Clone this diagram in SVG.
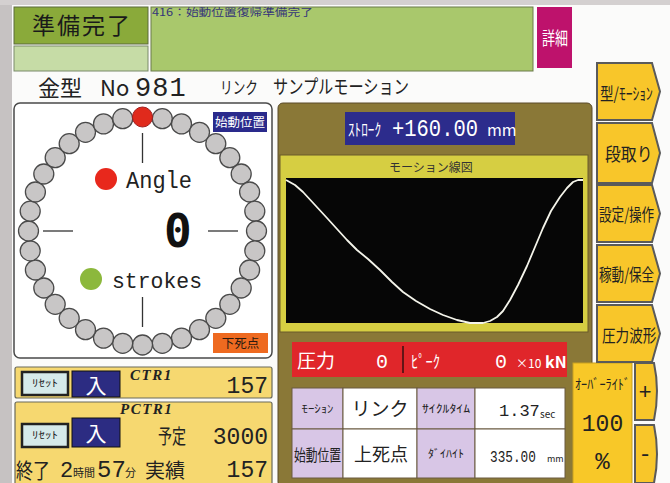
<svg xmlns="http://www.w3.org/2000/svg" width="670" height="483" viewBox="0 0 670 483">
<defs>
<style>
.jp{font-family:"Noto Sans CJK JP","Noto Sans",sans-serif}
.mono{font-family:"Liberation Mono","DejaVu Sans Mono",monospace}
.dmono{font-family:"DejaVu Sans Mono","Liberation Mono",monospace}
.ser{font-family:"Liberation Serif",serif;font-style:italic;font-weight:bold}
.dot{fill:#c8c6c6;stroke:#4a4a4a;stroke-width:1.3}
.nav{fill:#f8c62a;stroke:#5a5a5a;stroke-width:2}
.cell{stroke:#6a5a40;stroke-width:1}
.rst{fill:#d6eaea;stroke:#222;stroke-width:2.5}
.inb{fill:#2c2c82;stroke:#111;stroke-width:1}
</style>
<circle id="d" r="10" class="dot"/>
</defs>
<rect x="0" y="0" width="670" height="483" fill="#fbfbfa"/>
<rect x="0" y="0" width="12" height="483" fill="#c6c2c2"/>
<rect x="0" y="0" width="670" height="5" fill="#d4d0d0"/>

<g id="status">
<rect x="14" y="7" width="134" height="37" fill="#8aaa3a" stroke="#5a6a3a" stroke-width="1"/>
<text x="32" y="34" class="jp" font-size="23" letter-spacing="2" fill="#1a1a1a">準備完了</text>
<rect x="14" y="46" width="134" height="25" fill="#c6dca6" stroke="#7a8a6a" stroke-width="1"/>
</g>
<g id="message">
<rect x="151" y="7" width="382" height="64" fill="#a9c86c" stroke="#6a7a4a" stroke-width="1"/>
<text x="152" y="16" class="jp" font-size="10.5" fill="#35357a" textLength="161" lengthAdjust="spacingAndGlyphs">416：始動位置復帰準備完了</text>
</g>
<g id="detail">
<rect x="537" y="7" width="35" height="61" fill="#be126c"/>
<text x="542" y="45" class="jp" font-size="18" fill="#ffffff" textLength="26" lengthAdjust="spacingAndGlyphs">詳細</text>
</g>
<g id="title">
<text x="38" y="96" class="jp" font-size="22" fill="#222">金型</text>
<text x="100" y="96" class="jp" font-size="22" fill="#222">No</text>
<text x="135" y="96" class="mono" font-size="27" fill="#222" letter-spacing="1">981</text>
<text x="220" y="94" class="jp" font-size="17" fill="#222" textLength="38" lengthAdjust="spacingAndGlyphs">リンク</text>
<text transform="translate(273,94) scale(0.8,1)" class="jp" font-size="19" fill="#222">サンプルモーション</text>
</g>

<g id="angle-panel">
<rect x="14" y="103" width="258" height="255" rx="6" fill="#ffffff" stroke="#4a4a4a" stroke-width="1.5"/>
<g id="dots">
<use href="#d" x="162.3" y="118.7"/><use href="#d" x="181.5" y="123.9"/><use href="#d" x="199.5" y="132.3"/>
<use href="#d" x="215.8" y="143.7"/><use href="#d" x="229.8" y="157.7"/><use href="#d" x="241.2" y="174"/>
<use href="#d" x="249.6" y="192"/><use href="#d" x="254.8" y="211.2"/><use href="#d" x="256.5" y="231"/>
<use href="#d" x="254.8" y="250.8"/><use href="#d" x="249.6" y="270"/><use href="#d" x="241.2" y="288"/>
<use href="#d" x="229.8" y="304.3"/><use href="#d" x="215.8" y="318.3"/><use href="#d" x="199.5" y="329.7"/>
<use href="#d" x="181.5" y="338.1"/><use href="#d" x="162.3" y="343.3"/><use href="#d" x="142.5" y="345"/>
<use href="#d" x="122.7" y="343.3"/><use href="#d" x="103.5" y="338.1"/><use href="#d" x="85.5" y="329.7"/>
<use href="#d" x="69.2" y="318.3"/><use href="#d" x="55.2" y="304.3"/><use href="#d" x="43.8" y="288"/>
<use href="#d" x="35.4" y="270"/><use href="#d" x="30.2" y="250.8"/><use href="#d" x="28.5" y="231"/>
<use href="#d" x="30.2" y="211.2"/><use href="#d" x="35.4" y="192"/><use href="#d" x="43.8" y="174"/>
<use href="#d" x="55.2" y="157.7"/><use href="#d" x="69.2" y="143.7"/><use href="#d" x="85.5" y="132.3"/>
<use href="#d" x="103.5" y="123.9"/><use href="#d" x="122.7" y="118.7"/>
<circle cx="142.5" cy="117" r="10" fill="#e02a1c" stroke="#a02020" stroke-width="1"/>
</g>
<g stroke="#333" stroke-width="1.3">
<line x1="142.5" y1="133" x2="142.5" y2="163"/>
<line x1="142.5" y1="297" x2="142.5" y2="327"/>
<line x1="43" y1="231" x2="73" y2="231"/>
<line x1="208" y1="231" x2="238" y2="231"/>
</g>
<circle cx="106" cy="179" r="11" fill="#e8281c"/>
<text x="126" y="188" class="mono" font-size="24" fill="#222" textLength="66" lengthAdjust="spacingAndGlyphs">Angle</text>
<circle cx="91" cy="279" r="11" fill="#8cb83c"/>
<text x="112" y="288" class="mono" font-size="22" fill="#222" textLength="90" lengthAdjust="spacingAndGlyphs">strokes</text>
<text x="164" y="247" class="dmono" font-size="46" font-weight="bold" fill="#111">0</text>
<rect x="213" y="112" width="54" height="20" fill="#2a2a8c"/>
<text x="240" y="127" class="jp" font-size="12.5" fill="#fff" text-anchor="middle">始動位置</text>
<rect x="213" y="333" width="55" height="20" fill="#ee6a20"/>
<text x="240.5" y="348" class="jp" font-size="12.5" fill="#2a1a10" text-anchor="middle">下死点</text>
</g>

<g id="motion-panel">
<rect x="278" y="103" width="314" height="384" rx="5" fill="#8a7837" stroke="#5a4a2a" stroke-width="1"/>
<rect x="345" y="112" width="170" height="33" fill="#2c2c8c"/>
<text x="348" y="136" class="jp" font-size="17" fill="#fff" textLength="33" lengthAdjust="spacingAndGlyphs">ｽﾄﾛｰｸ</text>
<text x="392" y="136" class="mono" font-size="23" fill="#fff" textLength="86" lengthAdjust="spacingAndGlyphs">+160.00</text>
<text x="487" y="136" class="jp" font-size="16" fill="#fff">mm</text>
<rect x="280" y="155" width="308" height="177" fill="#d6ce42" stroke="#6a5a2a" stroke-width="1"/>
<text x="431" y="172" class="jp" font-size="12" fill="#333" text-anchor="middle">モーション線図</text>
<rect x="286" y="178" width="297" height="145" fill="#060606"/>
<path d="M286,180 L295,185 L303,192 L315,205 L327,218 L337,229 L347,240 L357,250 L368,259 L380,270 L392,282 L403,292 L416,301 L430,309 L443,315 L457,320 L470,323 L483,323 L490,321 L497,317 L503,311 L510,300 L518,285 L527,266 L535,247 L543,228 L551,211 L560,197 L567,188 L573,182 L578,180 L583,180" fill="none" stroke="#f4f4ea" stroke-width="1.8" stroke-linejoin="round"/>
</g>

<g id="pressure">
<rect x="292" y="342" width="275" height="35" fill="#e0262a"/>
<line x1="403" y1="346" x2="403" y2="373" stroke="#3a1010" stroke-width="1.5"/>
<text x="297" y="368" class="jp" font-size="19" fill="#fff">圧力</text>
<text x="376" y="368" class="mono" font-size="20" fill="#fff">0</text>
<text x="411" y="368" class="jp" font-size="17" fill="#fff" textLength="29" lengthAdjust="spacingAndGlyphs">ﾋﾟｰｸ</text>
<text x="495" y="368" class="mono" font-size="20" fill="#fff">0</text>
<text x="516" y="368" class="jp" font-size="12" fill="#fff">×10</text>
<text x="545" y="368" class="jp" font-size="16" font-weight="bold" fill="#fff">kN</text>
</g>

<g id="info-table">
<rect x="292" y="388" width="51" height="41" fill="#d8c6e6" class="cell"/>
<rect x="343" y="388" width="74" height="41" fill="#ffffff" class="cell"/>
<rect x="417" y="388" width="58" height="41" fill="#d8c6e6" class="cell"/>
<rect x="475" y="388" width="90" height="41" fill="#ffffff" class="cell"/>
<rect x="292" y="429" width="51" height="49" fill="#d8c6e6" class="cell"/>
<rect x="343" y="429" width="74" height="49" fill="#ffffff" class="cell"/>
<rect x="417" y="429" width="58" height="49" fill="#d8c6e6" class="cell"/>
<rect x="475" y="429" width="90" height="49" fill="#ffffff" class="cell"/>
<text x="317.5" y="413" class="jp" font-size="11" fill="#222" text-anchor="middle" textLength="32" lengthAdjust="spacingAndGlyphs">ﾓｰｼｮﾝ</text>
<text x="380" y="416" class="jp" font-size="19" fill="#222" text-anchor="middle">リンク</text>
<text x="446" y="413" class="jp" font-size="11" fill="#222" text-anchor="middle" textLength="48" lengthAdjust="spacingAndGlyphs">ｻｲｸﾙﾀｲﾑ</text>
<text x="499" y="416" class="mono" font-size="17" fill="#222">1.37</text>
<text x="540" y="418" class="jp" font-size="10" fill="#222">sec</text>
<text x="294" y="461" class="jp" font-size="16" fill="#222" textLength="47" lengthAdjust="spacingAndGlyphs">始動位置</text>
<text x="381" y="461" class="jp" font-size="18" fill="#222" text-anchor="middle">上死点</text>
<text x="446" y="458" class="jp" font-size="11" fill="#222" text-anchor="middle" textLength="36" lengthAdjust="spacingAndGlyphs">ﾀﾞｲﾊｲﾄ</text>
<text transform="translate(490,462) scale(0.75,1)" class="mono" font-size="17" fill="#222">335.00</text>
<text x="547" y="462" class="jp" font-size="9" fill="#222">mm</text>
</g>

<g id="override">
<rect x="573" y="363" width="59" height="124" fill="#f8c828" stroke="#c8a020" stroke-width="1"/>
<text x="575" y="389" class="jp" font-size="14" fill="#222" textLength="55" lengthAdjust="spacingAndGlyphs">ｵｰﾊﾞｰﾗｲﾄﾞ</text>
<text x="602.5" y="431" class="mono" font-size="23" fill="#222" text-anchor="middle">100</text>
<text x="602.5" y="469" class="mono" font-size="24" fill="#222" text-anchor="middle">%</text>
</g>
<g id="btn-plus">
<path d="M635,363 L654,363 Q660,391 654,420 L635,420 Z" class="nav"/>
<text x="645" y="399" class="mono" font-size="22" fill="#222" text-anchor="middle">+</text>
</g>
<g id="btn-minus">
<path d="M635,425 L654,425 Q660,454 654,483 L635,483 Z" class="nav"/>
<text x="645" y="461" class="mono" font-size="22" fill="#222" text-anchor="middle">-</text>
</g>

<g id="nav-mold">
<path d="M597,63 L652,63 L660,91.5 L652,120 L597,120 Z" class="nav"/>
<text transform="translate(600,100) scale(0.8,1)" class="jp" font-size="17" fill="#222">型/ﾓｰｼｮﾝ</text>
</g>
<g id="nav-setup">
<path d="M597,123 L652,123 L660,153 L652,183 L597,183 Z" class="nav"/>
<text transform="translate(605,161) scale(0.88,1)" class="jp" font-size="18" fill="#222">段取り</text>
</g>
<g id="nav-settings">
<path d="M597,185 L652,185 L660,213.5 L652,242 L597,242 Z" class="nav"/>
<text transform="translate(599,221) scale(0.74,1)" class="jp" font-size="17" fill="#222">設定/操作</text>
</g>
<g id="nav-operation">
<path d="M597,245 L652,245 L660,273.5 L652,302 L597,302 Z" class="nav"/>
<text transform="translate(599,281) scale(0.74,1)" class="jp" font-size="17" fill="#222">稼動/保全</text>
</g>
<g id="nav-pressure">
<path d="M597,305 L652,305 L660,333.5 L652,362 L597,362 Z" class="nav"/>
<text transform="translate(602,342) scale(0.8,1)" class="jp" font-size="17" fill="#222">圧力波形</text>
</g>

<g id="ctr1">
<rect x="15" y="367" width="257" height="31" rx="2" fill="#f6d870" stroke="#6a6a5a" stroke-width="1.2"/>
<rect x="22" y="372" width="46" height="23" class="rst"/>
<text x="45" y="387" class="jp" font-size="10" fill="#222" text-anchor="middle" textLength="26" lengthAdjust="spacingAndGlyphs">ﾘｾｯﾄ</text>
<rect x="72" y="371" width="48" height="26" class="inb"/>
<text x="96" y="393" class="jp" font-size="21" fill="#fff" text-anchor="middle">入</text>
<text x="130" y="380" class="ser" font-size="15" fill="#222" letter-spacing="1.5">CTR1</text>
<text x="268" y="393" class="mono" font-size="23" fill="#222" text-anchor="end">157</text>
</g>
<g id="pctr1">
<rect x="15" y="402" width="257" height="85" rx="2" fill="#f6d870" stroke="#6a6a5a" stroke-width="1.2"/>
<text x="120" y="414" class="ser" font-size="15" fill="#222" letter-spacing="1.5">PCTR1</text>
<rect x="22" y="424" width="46" height="23" class="rst"/>
<text x="45" y="439" class="jp" font-size="10" fill="#222" text-anchor="middle" textLength="26" lengthAdjust="spacingAndGlyphs">ﾘｾｯﾄ</text>
<rect x="72" y="418" width="48" height="29" class="inb"/>
<text x="96" y="441" class="jp" font-size="21" fill="#fff" text-anchor="middle">入</text>
<text x="158" y="444" class="jp" font-size="20" fill="#222" textLength="28" lengthAdjust="spacingAndGlyphs">予定</text>
<text x="268" y="444" class="mono" font-size="23" fill="#222" text-anchor="end">3000</text>
<text x="16" y="478" class="jp" font-size="21" fill="#222" textLength="34" lengthAdjust="spacingAndGlyphs">終了</text>
<text x="60" y="477" class="mono" font-size="22" fill="#222">2</text>
<text x="73" y="477" class="jp" font-size="11" fill="#222">時間</text>
<text x="97" y="477" class="mono" font-size="24" fill="#222">57</text>
<text x="125" y="477" class="jp" font-size="11" fill="#222">分</text>
<text x="145" y="478" class="jp" font-size="20" fill="#222" textLength="40" lengthAdjust="spacingAndGlyphs">実績</text>
<text x="268" y="477" class="mono" font-size="23" fill="#222" text-anchor="end">157</text>
</g>
</svg>
